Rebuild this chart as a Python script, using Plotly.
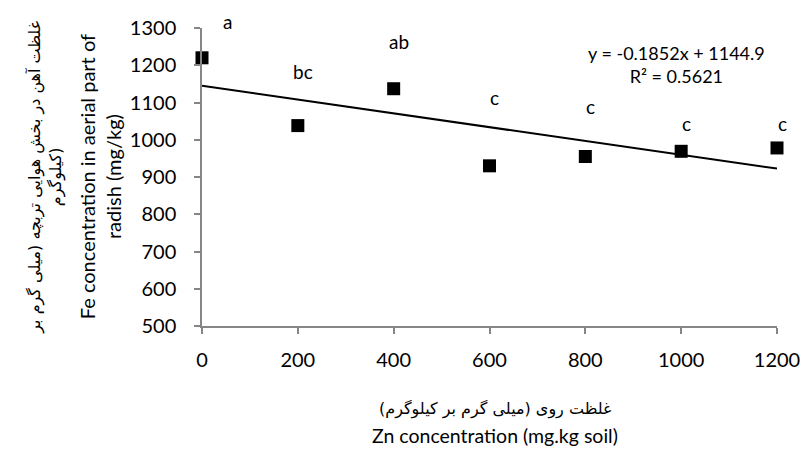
import plotly.graph_objects as go

zn = [0, 200, 400, 600, 800, 1000, 1200]
fe = [1220, 1038, 1137, 930, 955, 969, 978]
letters = ["a", "bc", "ab", "c", "c", "c", "c"]
letter_y = [1318, 1184, 1265, 1113, 1090, 1043, 1043]
slope = -0.1852
intercept = 1144.9
r2 = 0.5621
x_ticks = [0, 200, 400, 600, 800, 1000, 1200]
y_ticks = [500, 600, 700, 800, 900, 1000, 1100, 1200, 1300]
Y_MIN, Y_MAX = 500, 1300

FONT = "Lato"
AR = "DejaVu Sans"

fig = go.Figure()
fig.add_trace(go.Scatter(
    x=[0, 1200], y=[intercept + slope * 0, intercept + slope * 1200],
    mode="lines", line=dict(color="black", width=2), showlegend=False,
    cliponaxis=False))
fig.add_trace(go.Scatter(
    x=zn, y=fe, mode="markers",
    marker=dict(symbol="square", size=13, color="black"),
    showlegend=False, cliponaxis=False))

for i, (xv, lt, ly) in enumerate(zip(zn, letters, letter_y)):
    fig.add_annotation(x=xv, xref="x", yref="paper",
                       y=(ly - Y_MIN) / (Y_MAX - Y_MIN),
                       text=lt, showarrow=False, yanchor="middle",
                       xshift=25 if i == 0 else 5,
                       font=dict(family=FONT, size=19, color="black"))

fig.add_annotation(xref="paper", yref="paper", x=0.825, y=0.878,
                   xanchor="center", yanchor="middle",
                   text=f"y = {slope}x + {intercept}<br>R² = {r2}",
                   showarrow=False, align="center",
                   font=dict(family=FONT, size=18, color="black"))

# axis titles
fig.add_annotation(xref="paper", yref="paper", x=-0.177, y=0.5,
                   xanchor="center", yanchor="middle",
                   text="Fe concentration in aerial part of<br>radish (mg/kg)",
                   textangle=-90, showarrow=False,
                   font=dict(family=FONT, size=20, color="black"))
fig.add_annotation(xref="paper", yref="paper", x=-0.2735, y=0.5,
                   xanchor="center", yanchor="middle",
                   text="غلظت آهن در بخش هوایی تربچه (میلی گرم بر<br>کیلوگرم)",
                   textangle=-90, showarrow=False,
                   font=dict(family=AR, size=16, color="black"))
fig.add_annotation(xref="paper", yref="paper", x=0.51, y=-0.28,
                   xanchor="center", yanchor="middle",
                   text="غلظت روی (میلی گرم بر کیلوگرم)",
                   showarrow=False,
                   font=dict(family=AR, size=16, color="black"))
fig.add_annotation(xref="paper", yref="paper", x=0.51, y=-0.368,
                   xanchor="center", yanchor="middle",
                   text="Zn concentration (mg.kg soil)",
                   showarrow=False,
                   font=dict(family=FONT, size=19.5, color="black"))

fig.update_layout(
    width=812, height=450,
    margin=dict(l=202, r=25, t=28, b=124),
    plot_bgcolor="white", paper_bgcolor="white",
    font=dict(family=FONT, size=20, color="black"),
)
fig.update_xaxes(range=[0, 1200], tickvals=x_ticks, showgrid=False, zeroline=False,
                 showline=True, linecolor="#868686", linewidth=1.5,
                 ticks="outside", ticklen=6, tickcolor="#868686", tickwidth=1.5,
                 ticklabelstandoff=9)
fig.update_yaxes(range=[Y_MIN, Y_MAX], tickvals=y_ticks, showgrid=False, zeroline=False,
                 showline=True, linecolor="#868686", linewidth=1.5,
                 ticks="outside", ticklen=6, tickcolor="#868686", tickwidth=1.5,
                 ticklabelstandoff=14)

fig.write_html("out.html")
